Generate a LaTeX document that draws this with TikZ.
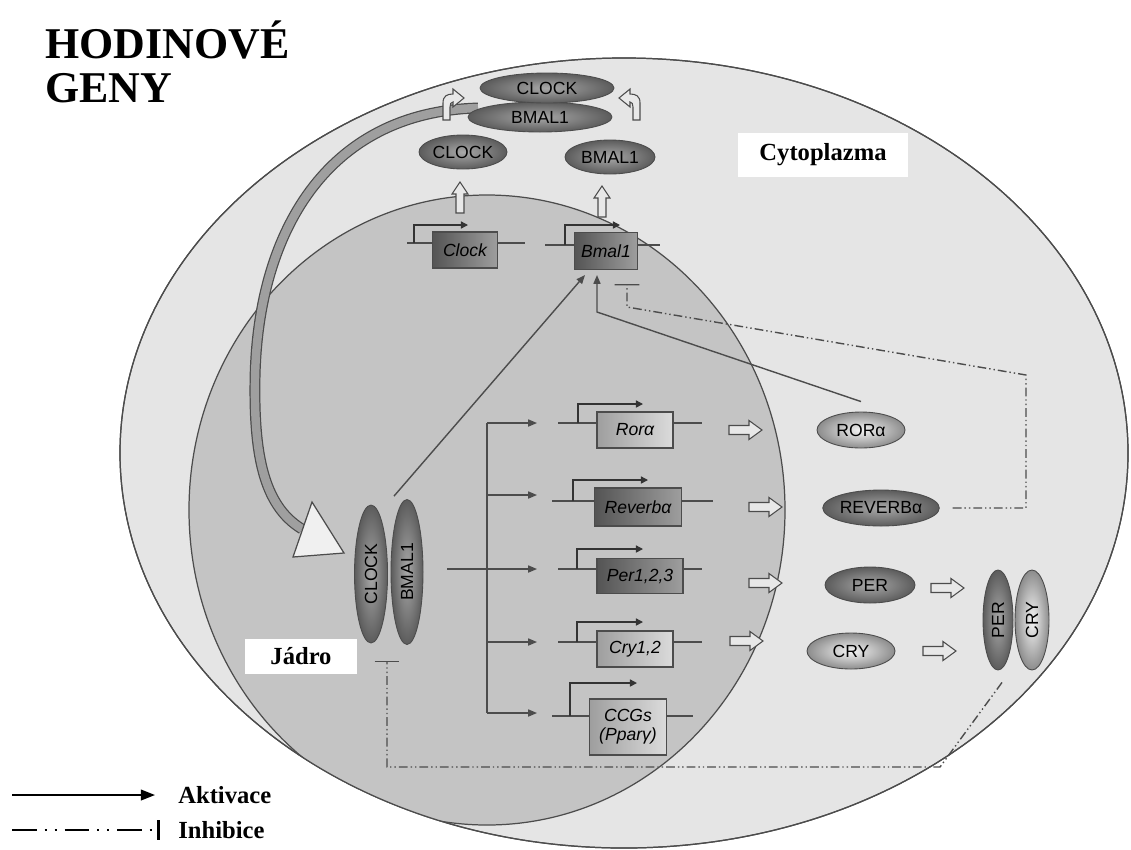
\documentclass[tikz,border=0pt]{standalone}
\usepackage{fontspec}
\setmainfont{Liberation Serif}
\setsansfont{Liberation Sans}
\usetikzlibrary{shapes.geometric,arrows.meta}
\definecolor{cytogray}{gray}{0.9}
\definecolor{nucgray}{gray}{0.77}
\definecolor{edgegray}{gray}{0.3}
\definecolor{protdark}{gray}{0.36}
\definecolor{protmid}{gray}{0.66}
\definecolor{protlmid}{gray}{0.55}
\definecolor{protlight}{gray}{0.96}
\definecolor{boxdark}{gray}{0.33}
\definecolor{boxmid}{gray}{0.62}
\definecolor{boxlight}{gray}{0.86}
% hollow arrow outlines, in pixels, tail at the origin
\newcommand{\uturnpath}{(0,0) -- (0,-17) .. controls (0,-24) and (4,-26) .. (10,-26) -- (10,-31) -- (21,-22) -- (10,-13) -- (10,-18) .. controls (8,-18) and (7,-16) .. (7,-13) -- (7,0) -- cycle}
\newcommand{\hollowpath}{(0,-4.5) -- (20,-4.5) -- (20,-9.5) -- (33,0) -- (20,9.5) -- (20,4.5) -- (0,4.5) -- cycle}
\newcommand{\hollowuppath}{(0,-4) -- (19,-4) -- (19,-8) -- (31,0) -- (19,8) -- (19,4) -- (0,4) -- cycle}
\tikzset{
  cellline/.style={draw=edgegray, line width=0.7pt},
  prot/.style={ellipse, draw=edgegray, line width=0.5pt, inner sep=0pt,
    font=\sffamily\fontsize{10}{12}\selectfont, outer color=protdark, inner color=protmid},
  protl/.style={prot, outer color=protlmid, inner color=protlight},
  gene/.style={rectangle, draw=edgegray, line width=0.6pt, inner sep=0pt, align=center,
    font=\sffamily\itshape\fontsize{10}{11}\selectfont, left color=boxdark, right color=boxmid},
  genel/.style={gene, left color=boxmid, right color=boxlight},
  dna/.style={draw=edgegray, line width=0.8pt},
  prom/.style={draw=black!80, line width=0.8pt, -{Triangle[length=4pt,width=4pt]}},
  act/.style={draw=edgegray, line width=0.8pt, -{Triangle[length=5pt,width=4pt]}},
  inhib/.style={draw=edgegray, line width=0.8pt,
    dash pattern=on 5pt off 1.7pt on 0.8pt off 1.7pt on 0.8pt off 1.7pt, -{Bar[width=14pt]}},
  hollow/.style={draw=edgegray, fill=gray!18, line width=0.6pt},
  tagbox/.style={fill=white, inner sep=0pt, font=\bfseries\fontsize{14}{16}\selectfont},
  legtext/.style={anchor=west, inner sep=0pt, font=\bfseries\fontsize{14}{16}\selectfont},
}
\begin{document}
\begin{tikzpicture}[x=0.02cm, y=-0.02cm]
\useasboundingbox (0,0) rectangle (1131,849);

% cell and nucleus
\draw[cellline, fill=cytogray] (624,453) ellipse [x radius=504, y radius=395];
\begin{scope}
  \clip (624,453) ellipse [x radius=504, y radius=395];
  \draw[cellline, fill=nucgray] (487,510) ellipse [x radius=298, y radius=315];
\end{scope}
\draw[cellline] (624,453) ellipse [x radius=504, y radius=395];

\node[tagbox, minimum width=3.4cm, minimum height=0.88cm] (cyto) at (823,155) {Cytoplazma};
\node[tagbox, minimum width=2.24cm, minimum height=0.7cm] (jadro) at (301,656) {Jádro};

% title
\node[anchor=base west, inner sep=0pt, font=\bfseries\fontsize{25}{28}\selectfont] (title1) at (45,58) {HODINOVÉ};
\node[anchor=base west, inner sep=0pt, font=\bfseries\fontsize{25}{28}\selectfont] (title2) at (45,102) {GENY};

% big transport arrow into the nucleus
\draw[edgegray, line width=6.2pt] (478,108) .. controls (325,112) and (257,235) .. (255,380) .. controls (254,450) and (262,505) .. (302,529);
\draw[gray!75, line width=4.8pt] (478,108) .. controls (325,112) and (257,235) .. (255,380) .. controls (254,450) and (262,505) .. (302,529);
\draw[edgegray, fill=gray!12, line width=0.7pt] (312,502) -- (344,553) -- (293,557) -- cycle;

% small hollow turns into the complex
\begin{scope}[shift={(443,120)}]
  \draw[hollow] \uturnpath;
\end{scope}
\begin{scope}[shift={(640,120)}, xscale=-1]
  \draw[hollow] \uturnpath;
\end{scope}

% cytoplasmic proteins
\node[prot, minimum width=2.88cm, minimum height=0.6cm] (bmaltop) at (540,117) {BMAL1};
\node[prot, minimum width=2.68cm, minimum height=0.6cm] (clocktop) at (547,88) {CLOCK};
\node[prot, minimum width=1.76cm, minimum height=0.68cm] (clockp) at (463,152) {CLOCK};
\node[prot, minimum width=1.8cm, minimum height=0.68cm] (bmalp) at (610,157) {BMAL1};
\foreach \ax/\ay in {460/213, 602/217}
{
  \begin{scope}[shift={(\ax,\ay)}, rotate=90]
    \draw[hollow] \hollowuppath;
  \end{scope}
}

% gene lines and promoters
\foreach \ly/\xa/\xb/\xp/\yp/\xe in {243/407/525/414/225/468, 245/545/660/565/225/620,
    423/558/702/578/404/643, 501/552/713/573/480/648, 569/558/702/577/549/643,
    642/558/702/577/622/643, 716/552/693/570/683/637}
{
  \draw[dna] (\xa,\ly) -- (\xb,\ly);
  \draw[prom] (\xp,\ly) |- (\xe,\yp);
}

% genes
\node[gene, minimum width=1.3cm, minimum height=0.72cm] (clockbox) at (465,250) {Clock};
\node[gene, minimum width=1.26cm, minimum height=0.74cm] (bmalbox) at (606,251) {Bmal1};
\node[genel, minimum width=1.52cm, minimum height=0.72cm] (rora) at (635,430) {Rorα};
\node[gene, minimum width=1.74cm, minimum height=0.76cm] (reverb) at (638,507) {Reverbα};
\node[gene, minimum width=1.72cm, minimum height=0.7cm] (per) at (640,576) {Per1,2,3};
\node[genel, minimum width=1.52cm, minimum height=0.72cm] (cry) at (635,649) {Cry1,2};
\node[genel, minimum width=1.54cm, minimum height=1.12cm] (ccg) at (628,727) {CCGs\\(Pparγ)};

% nuclear complex
\node[prot, minimum width=2.76cm, minimum height=0.66cm, rotate=90] (clockv) at (371,574) {CLOCK};
\node[prot, minimum width=2.9cm, minimum height=0.64cm, rotate=90] (bmalv) at (407,572) {BMAL1};

% activation of the target genes
\coordinate (split) at (487,569);
\draw[dna] (447,569) -- (split);
\draw[dna] (487,423) -- (487,713);
\foreach \ay in {423,495,569,642,713}
  \draw[act] (487,\ay) -- (537,\ay);

% translation
\foreach \ax/\ay in {729/430, 749/507, 749/583, 730/641, 931/588, 923/651}
{
  \begin{scope}[shift={(\ax,\ay)}]
    \draw[hollow] \hollowpath;
  \end{scope}
}

\node[protl, minimum width=1.76cm, minimum height=0.72cm] (ror) at (861,430) {RORα};
\node[prot, minimum width=2.16cm, minimum height=0.72cm] (rev) at (881,508) {REVERBα};
\node[prot, minimum width=1.8cm, minimum height=0.72cm] (perp) at (870,585) {PER};
\node[protl, minimum width=1.76cm, minimum height=0.72cm] (cryp) at (851,651) {CRY};

\node[prot, minimum width=2cm, minimum height=0.6cm, rotate=90] (perv) at (998,620) {PER};
\node[protl, minimum width=2cm, minimum height=0.68cm, rotate=90] (cryv) at (1032,620) {CRY};

% feedback on Bmal1
\draw[act] ([xshift=-0.26cm,yshift=0.06cm]bmalv.east) -- ([xshift=-0.42cm,yshift=-0.1cm]bmalbox.south);
\coordinate (rorbend) at (597,312);
\draw[act] ([yshift=0.2cm]ror.north) -- (rorbend) -- ([yshift=-0.1cm]rorbend |- bmalbox.south);
\coordinate (rv2) at (1026,375);
\coordinate (rv3) at (627,307);
\draw[inhib] ([xshift=0.26cm]rev.east) -| (rv2) -- (rv3) -- ([xshift=0.42cm,yshift=-0.28cm]bmalbox.south);

% PER:CRY inhibits CLOCK:BMAL1
\coordinate (pc2) at (940,767);
\coordinate (inhB) at (387,661);
\draw[inhib] ([xshift=0.08cm,yshift=-0.24cm]perv.west) -- (pc2) -| (inhB);

% legend
\node[legtext] (aktiv) at (178,795) {Aktivace};
\node[legtext] (inhibl) at (178,830) {Inhibice};
\coordinate (legA) at (12,795);
\coordinate (legI) at (12,830);
\draw[draw=black, line width=1.2pt, -{Triangle[length=8pt,width=6pt]}] (legA) -- ([xshift=-0.46cm]aktiv.west);
\draw[draw=black, line width=1.6pt, dash pattern=on 14pt off 4.5pt on 1.2pt off 4.5pt on 1.2pt off 4.5pt,
  -{Bar[width=11pt]}] (legI) -- ([xshift=-0.36cm]inhibl.west);
\end{tikzpicture}
\end{document}
